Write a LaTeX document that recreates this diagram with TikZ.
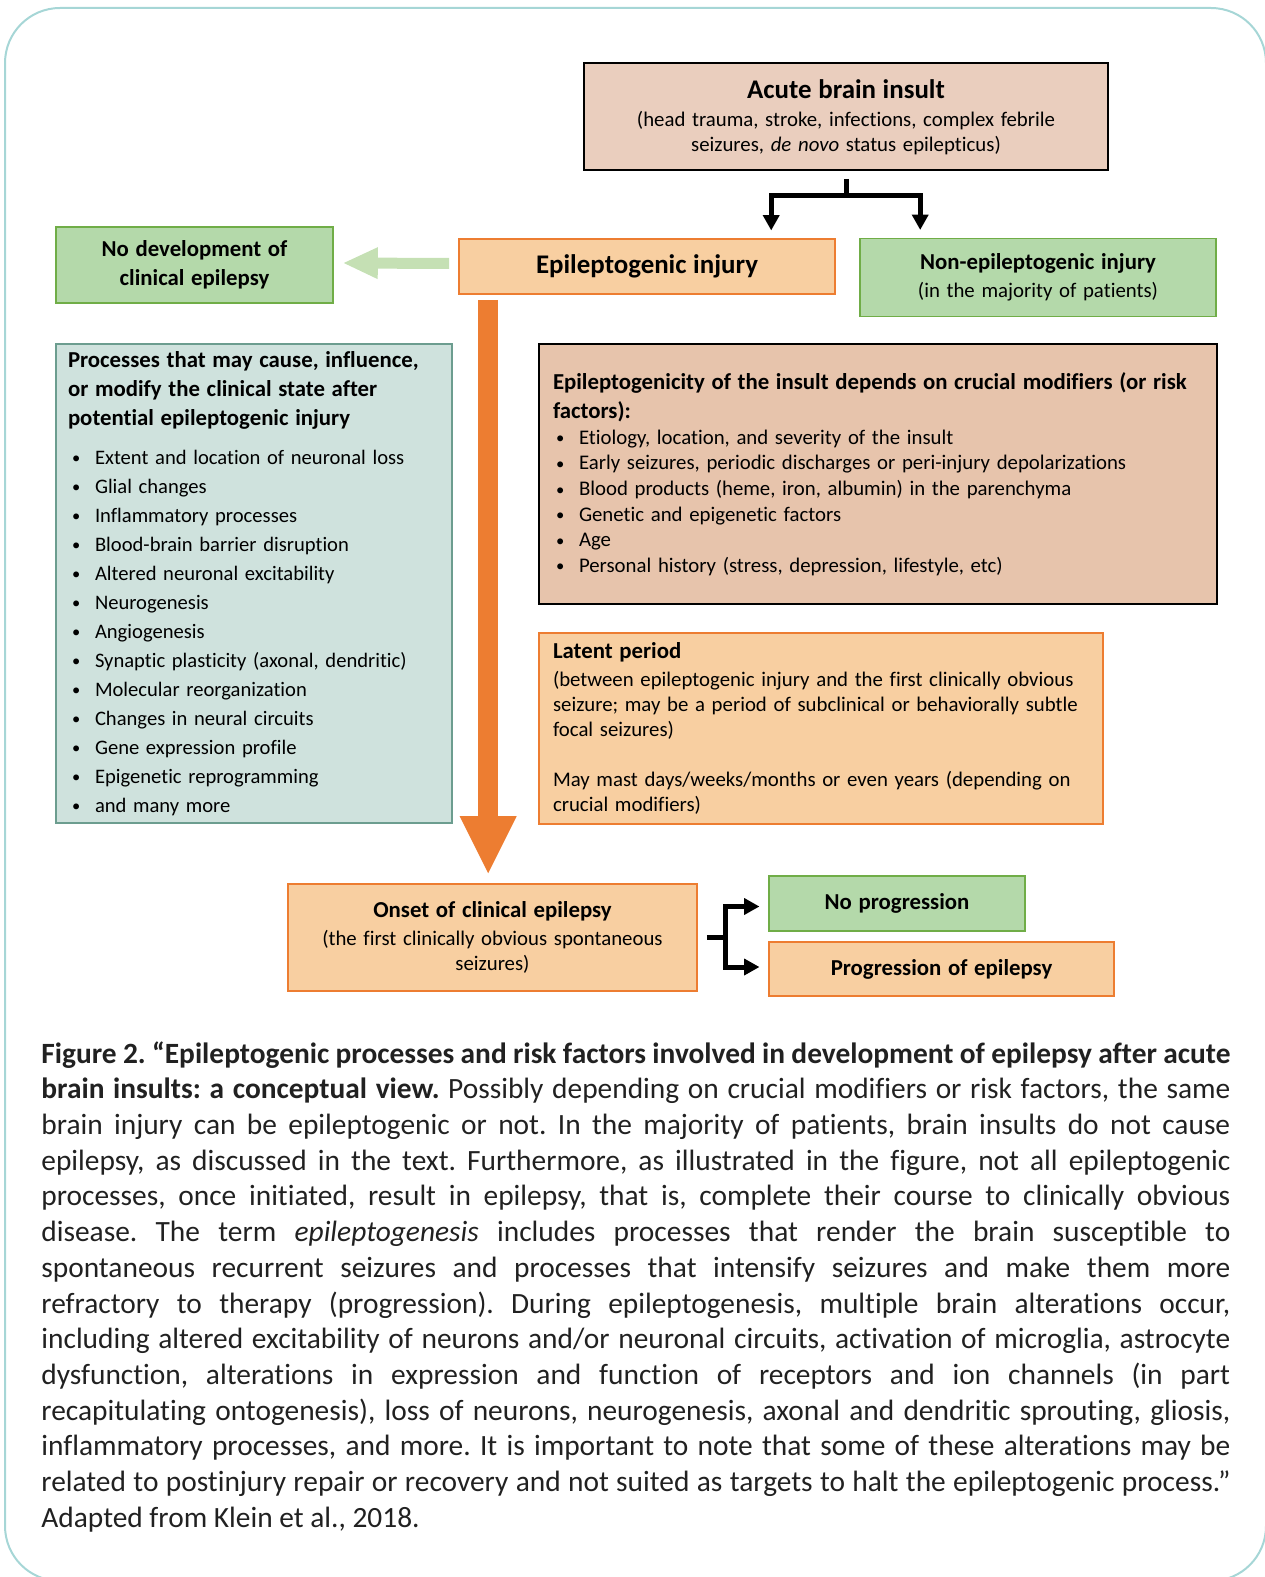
\documentclass[tikz,border=0pt]{standalone}
\usepackage{fontspec}
\setmainfont{Carlito}[Ligatures=NoCommon]
\usetikzlibrary{arrows.meta,calc}
\frenchspacing

\definecolor{framecol}{RGB}{166,214,214}
\definecolor{peach}{RGB}{248,207,161}
\definecolor{orangeline}{RGB}{237,125,49}
\definecolor{leaf}{RGB}{180,217,170}
\definecolor{leafline}{RGB}{112,173,71}
\definecolor{paleleaf}{RGB}{197,224,180}
\definecolor{roseA}{RGB}{234,206,190}
\definecolor{roseB}{RGB}{231,196,172}
\definecolor{tealfill}{RGB}{207,226,221}
\definecolor{tealline}{RGB}{108,157,143}
\definecolor{captext}{RGB}{33,33,33}

\newcommand{\bigt}{\fontsize{13.45}{15.5}\selectfont\bfseries}
\newcommand{\tit}{\fontsize{11.4}{14.5}\selectfont\bfseries}
\newcommand{\bod}{\fontsize{10.4}{12.5}\selectfont}
\newcommand{\dotmark}{\raisebox{0.05ex}{\scalebox{0.8}{•}}}
\newcommand{\pitem}{\hspace*{2pt}\makebox[11.5pt][l]{\dotmark}}
\newcommand{\mitem}{\hspace*{1.5pt}\makebox[11.5pt][l]{\dotmark}}

\tikzset{
  box/.style={draw, line width=0.8pt, inner sep=0pt, align=center, text=black},
  rosebox/.style={box, draw=black, line width=1pt, fill=roseA},
  peachbox/.style={box, draw=orangeline, fill=peach},
  leafbox/.style={box, draw=leafline, fill=leaf},
  tealbox/.style={box, draw=tealline, fill=tealfill},
  splitline/.style={line width=2.5pt, black},
  splittip/.style={-{Triangle[width=8.5pt,length=7.5pt,line width=0pt]}},
}

\begin{document}
\begin{tikzpicture}[x=0.5pt,y=-0.5pt]
\useasboundingbox (0,0) rectangle (1264,1577);
% outer frame
\draw[framecol, line width=1pt, rounded corners=27.5pt] (5,8) rectangle (1266,1581);

% boxes
\node[rosebox, minimum width=262pt, minimum height=53.5pt, text width=250pt] (acute) at (846,117)
  {{\bigt Acute brain insult\par}\vspace{1.5pt}
   {\bod (head trauma, stroke, infections, complex febrile\\ seizures, \emph{de novo} status epilepticus)\par}};
\node[peachbox, minimum width=188pt, minimum height=27.5pt, text width=180pt] (epi) at (647,266.5)
  {\bigt Epileptogenic injury\par};
\node[leafbox, minimum width=178pt, minimum height=39pt, text width=170pt] (nonepi) at (1038,277.5)
  {{\tit Non-epileptogenic injury\par}\vspace{1.5pt}
   {\bod (in the majority of patients)\par}};
\node[leafbox, minimum width=138.5pt, minimum height=38pt, text width=130pt] (nodev) at (194.5,265)
  {\tit No development of\\ clinical epilepsy\par};

\node[tealbox, minimum width=198pt, minimum height=239.5pt, text width=186pt, align=left] (proc) at (254,583.5)
  {{\tit Processes that may cause, influence,\\ or modify the clinical state after\\ potential epileptogenic injury\par}
   \vspace{5pt}
   {\fontsize{10.3}{14.5}\selectfont
   \pitem Extent and location of neuronal loss\\
   \pitem Glial changes\\
   \pitem Inflammatory processes\\
   \pitem Blood-brain barrier disruption\\
   \pitem Altered neuronal excitability\\
   \pitem Neurogenesis\\
   \pitem Angiogenesis\\
   \pitem Synaptic plasticity (axonal, dendritic)\\
   \pitem Molecular reorganization\\
   \pitem Changes in neural circuits\\
   \pitem Gene expression profile\\
   \pitem Epigenetic reprogramming\\
   \pitem and many more\par}};

\node[rosebox, fill=roseB, minimum width=339pt, minimum height=130pt, text width=325pt, align=left] (modif) at (878,474)
  {{\tit Epileptogenicity of the insult depends on crucial modifiers (or risk\\ factors):\par}
   \vspace{0.3pt}
   {\fontsize{10.4}{12.8}\selectfont
   \mitem Etiology, location, and severity of the insult\\
   \mitem Early seizures, periodic discharges or peri-injury depolarizations\\
   \mitem Blood products (heme, iron, albumin) in the parenchyma\\
   \mitem Genetic and epigenetic factors\\
   \mitem Age\\
   \mitem Personal history (stress, depression, lifestyle, etc)\par}};

\node[peachbox, minimum width=282pt, minimum height=95.5pt, text width=268pt, align=left] (latent) at (821,728.5)
  {{\tit Latent period\par}\vspace{1.5pt}
   {\bod (between epileptogenic injury and the first clinically obvious\\
   seizure; may be a period of subclinical or behaviorally subtle\\
   focal seizures)\\[12.5pt]
   May mast days/weeks/months or even years (depending on\\
   crucial modifiers)\par}};

\node[peachbox, minimum width=204.5pt, minimum height=53.5pt, text width=196pt] (onset) at (492.5,937.5)
  {{\tit Onset of clinical epilepsy\par}\vspace{1.5pt}
   {\bod (the first clinically obvious spontaneous\\ seizures)\par}};
\node[leafbox, minimum width=128pt, minimum height=27.5pt, text width=120pt] (noprog) at (897,903.5)
  {\tit No progression\par};
\node[peachbox, minimum width=172.5pt, minimum height=27pt, text width=165pt] (prog) at (941.5,969)
  {\tit Progression of epilepsy\par};

% split below the insult
\coordinate (forkA) at ($(acute.south)+(0,24.5)$);
\draw[splitline] ($(acute.south)+(0,7.5)$) -- (forkA);
\draw[splitline, splittip] (forkA) -| ($(epi.north west)+(313,-8)$);
\draw[splitline, splittip] (forkA) -| ($(nonepi.north west)+(61,-8)$);

% no development
\draw[paleleaf, line width=5.5pt, -{Triangle[width=16pt,length=17pt,line width=0pt]}]
  ($(epi.west)+(-9,-3)$) -- ($(nodev.east)+(10,-2)$);

% latent course
\draw[orangeline, line width=10pt, -{Triangle[width=28.5pt,length=28.5pt,line width=0pt]}]
  ($(epi.south west)+(30,5)$) coordinate (bigA) -- ($(bigA |- onset.north)+(0,-10)$);

% split after onset
\coordinate (forkB) at ($(onset.east)+(28,0)$);
\draw[splitline] ($(onset.east)+(9,0)$) -- (forkB);
\draw[splitline, splittip] (forkB) |- ($(noprog.west)+(-9,3)$);
\draw[splitline, splittip] (forkB) |- ($(prog.west)+(-9,-2)$);

% caption
\node[anchor=north west, inner sep=0pt, text width=594.5pt, align=justify, text=captext] (caption) at (41,1041)
  {\fontsize{14.7}{17.85}\selectfont\noindent
  \textbf{Figure 2. “Epileptogenic processes and risk factors involved in development of epilepsy after acute\linebreak
  brain insults: a conceptual view.} Possibly depending on crucial modifiers or risk factors, the same\linebreak
  brain injury can be epileptogenic or not. In the majority of patients, brain insults do not cause\linebreak
  epilepsy, as discussed in the text. Furthermore, as illustrated in the figure, not all epileptogenic\linebreak
  processes, once initiated, result in epilepsy, that is, complete their course to clinically obvious\linebreak
  disease. The term \emph{epileptogenesis} includes processes that render the brain susceptible to\linebreak
  spontaneous recurrent seizures and processes that intensify seizures and make them more\linebreak
  refractory to therapy (progression). During epileptogenesis, multiple brain alterations occur,\linebreak
  including altered excitability of neurons and/or neuronal circuits, activation of microglia, astrocyte\linebreak
  dysfunction, alterations in expression and function of receptors and ion channels (in part\linebreak
  recapitulating ontogenesis), loss of neurons, neurogenesis, axonal and dendritic sprouting, gliosis,\linebreak
  inflammatory processes, and more. It is important to note that some of these alterations may be\linebreak
  related to postinjury repair or recovery and not suited as targets to halt the epileptogenic process.”\linebreak
  Adapted from Klein et al., 2018.\par};
\end{tikzpicture}
\end{document}
